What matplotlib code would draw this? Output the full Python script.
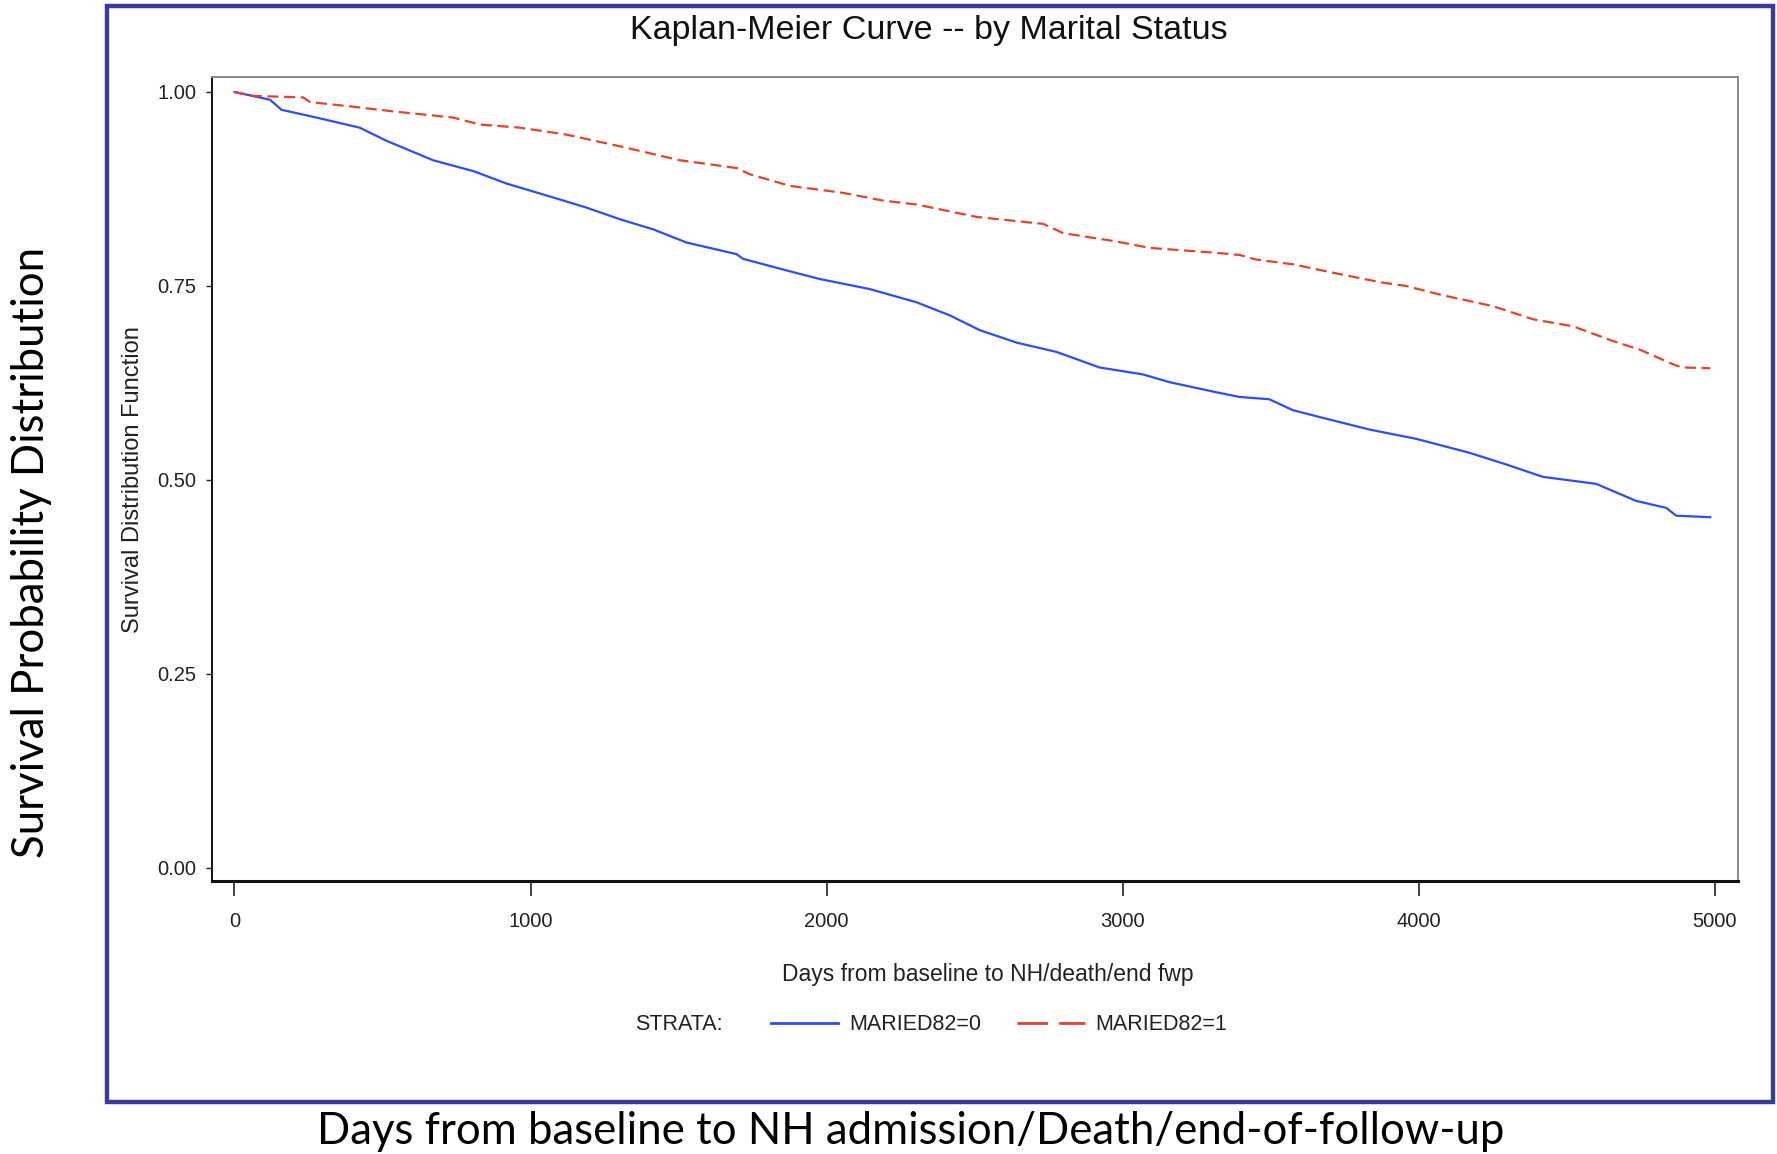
import matplotlib
matplotlib.use("Agg")
import matplotlib.pyplot as plt
from matplotlib.lines import Line2D
from matplotlib.patches import Rectangle

# Kaplan-Meier survival estimates (days, survival)
days_m0 = [0, 120, 159, 277, 423, 514, 671, 807, 919, 1077, 1189, 1302, 1414, 1527,
           1696, 1718, 1865, 1977, 2146, 2304, 2417, 2518, 2642, 2777, 2922, 3069,
           3159, 3317, 3395, 3496, 3575, 3677, 3834, 3992, 4172, 4296, 4420, 4600,
           4735, 4837, 4870, 4985]
surv_m0 = [1.000, 0.990, 0.977, 0.967, 0.954, 0.937, 0.912, 0.898, 0.882, 0.864, 0.851,
           0.836, 0.823, 0.806, 0.791, 0.785, 0.770, 0.759, 0.746, 0.729, 0.712, 0.693,
           0.677, 0.665, 0.645, 0.636, 0.626, 0.613, 0.607, 0.604, 0.590, 0.580, 0.565,
           0.553, 0.535, 0.520, 0.504, 0.495, 0.473, 0.464, 0.454, 0.452]

days_m1 = [0, 63, 232, 255, 401, 536, 739, 829, 964, 1122, 1302, 1392, 1505, 1696,
           1741, 1876, 2056, 2191, 2304, 2507, 2732, 2800, 2969, 3093, 3307, 3395,
           3452, 3575, 3699, 3868, 3958, 4071, 4251, 4387, 4522, 4657, 4747, 4860,
           4890, 4985]
surv_m1 = [1.000, 0.995, 0.993, 0.987, 0.981, 0.975, 0.967, 0.958, 0.954, 0.945, 0.930,
           0.922, 0.912, 0.902, 0.894, 0.879, 0.870, 0.860, 0.855, 0.839, 0.830, 0.818,
           0.808, 0.799, 0.793, 0.790, 0.784, 0.778, 0.768, 0.755, 0.750, 0.739, 0.724,
           0.707, 0.698, 0.679, 0.668, 0.649, 0.645, 0.644]

x_ticks = [0, 1000, 2000, 3000, 4000, 5000]
y_ticks = [0.00, 0.25, 0.50, 0.75, 1.00]
strata_labels = ["MARIED82=0", "MARIED82=1"]

W, H = 1777, 1154
fig = plt.figure(figsize=(W / 100, H / 100), dpi=100)

blue = "#2b4cff"
red = "#e8402c"
sas_font = "Liberation Sans"
outer_font = "Lato"

# plot area (pixel positions from the reference)
ax = fig.add_axes([212 / W, 1 - 881 / H, (1738 - 212) / W, (881 - 77) / H])
ax.plot(days_m0, surv_m0, color=blue, lw=1.6, solid_joinstyle="miter")
ax.plot(days_m1, surv_m1, color=red, lw=1.6, dashes=[5, 2.5])

ax.set_xlim(-76, 5079)
ax.set_ylim(-0.0168, 1.0193)
ax.set_xticks(x_ticks)
ax.set_yticks(y_ticks)
ax.set_yticklabels([f"{v:.2f}" for v in y_ticks])
ax.tick_params(axis="x", direction="out", length=11, width=1.2, pad=11,
               labelsize=14.5, colors="#222222")
ax.tick_params(axis="y", direction="out", length=4, width=1.0, pad=7,
               labelsize=14.5, colors="#222222")
for lab in ax.get_xticklabels() + ax.get_yticklabels():
    lab.set_family(sas_font)

ax.spines["left"].set_color("#111111")
ax.spines["left"].set_linewidth(1.4)
ax.spines["bottom"].set_color("#111111")
ax.spines["bottom"].set_linewidth(2.2)
ax.spines["top"].set_color("#8a8a8a")
ax.spines["top"].set_linewidth(1.4)
ax.spines["right"].set_color("#8a8a8a")
ax.spines["right"].set_linewidth(1.4)

# SAS style texts
fig.text(929 / W, 1 - 30 / H, "Kaplan-Meier Curve -- by Marital Status",
         ha="center", va="center", fontsize=24.5, family=sas_font, color="#111111")
fig.text(133 / W, 1 - 480 / H, "Survival Distribution Function", rotation=90,
         ha="center", va="center", fontsize=17, family=sas_font, color="#222222")
fig.text(988 / W, 1 - 975 / H, "Days from baseline to NH/death/end fwp",
         ha="center", va="center", fontsize=16.5, family=sas_font, color="#222222")

# legend row
ly = 1 - 1025 / H
fig.text(635 / W, ly, "STRATA:", ha="left", va="center", fontsize=15.5,
         family=sas_font, color="#222222")
fig.add_artist(Line2D([771 / W, 838 / W], [ly + 2 / H, ly + 2 / H], color=blue, lw=2))
fig.text(849 / W, ly, strata_labels[0], ha="left", va="center", fontsize=15.5,
         family=sas_font, color="#222222")
fig.add_artist(Line2D([1017 / W, 1085 / W], [ly + 2 / H, ly + 2 / H], color=red, lw=2,
                      dashes=[11, 4]))
fig.text(1095 / W, ly, strata_labels[1], ha="left", va="center", fontsize=15.5,
         family=sas_font, color="#222222")

# outer frame around the SAS output
fig.add_artist(Rectangle((107 / W, 1 - 1102 / H), (1773 - 107) / W, (1102 - 6) / H,
                         transform=fig.transFigure, fill=False,
                         edgecolor="#3a3a9c", lw=3.2))

# slide labels
fig.text(32 / W, 1 - 552 / H, "Survival Probability Distribution", rotation=90,
         ha="center", va="center", fontsize=31.5, family=outer_font, color="black")
fig.text(911 / W, 1 - 1132 / H, "Days from baseline to NH admission/Death/end-of-follow-up",
         ha="center", va="center", fontsize=31.5, family=outer_font, color="black")

fig.savefig("out.png", dpi=100)
